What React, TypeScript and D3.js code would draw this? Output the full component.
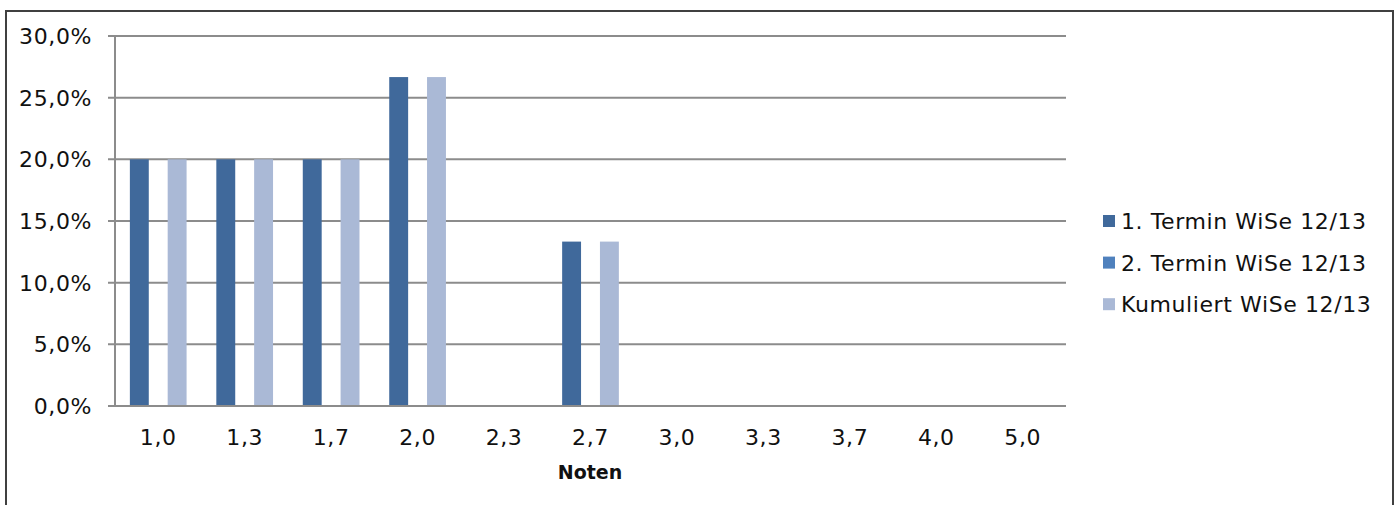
import { useRef, useEffect } from 'react';
import * as d3 from 'd3';

const categories = ['1,0', '1,3', '1,7', '2,0', '2,3', '2,7', '3,0', '3,3', '3,7', '4,0', '5,0'];
const seriesNames = ['1. Termin WiSe 12/13', '2. Termin WiSe 12/13', 'Kumuliert WiSe 12/13'];
const seriesColors = ['#40699b', '#4f81bd', '#aab9d6'];
const termin1 = [20, 20, 20, 26.67, 0, 13.33, 0, 0, 0, 0, 0];
const termin2 = [0, 0, 0, 0, 0, 0, 0, 0, 0, 0, 0];
const kumuliert = [20, 20, 20, 26.67, 0, 13.33, 0, 0, 0, 0, 0];
const yTicks = [0, 5, 10, 15, 20, 25, 30];

const FONT = "'DejaVu Sans', sans-serif";

export default function App() {
  const ref = useRef<SVGSVGElement | null>(null);

  useEffect(() => {
    const svg = d3.select(ref.current);
    svg.selectAll('*').remove();

    const height = 505;
    const plot = { left: 115, right: 1066, top: 36, bottom: 406 };

    // Frame (bottom edge runs off the picture)
    svg
      .append('rect')
      .attr('x', 6)
      .attr('y', 11)
      .attr('width', 1387)
      .attr('height', height + 20)
      .attr('fill', '#fff')
      .attr('stroke', '#404040')
      .attr('stroke-width', 2);

    const x0 = d3.scaleBand<string>().domain(categories).range([plot.left, plot.right]).padding(0);
    const gap = x0.bandwidth() * 0.172;
    const x1 = d3
      .scaleBand<string>()
      .domain(seriesNames)
      .range([gap, x0.bandwidth() - gap])
      .padding(0);

    const y = d3.scaleLinear().domain([0, 30]).range([plot.bottom, plot.top]);

    // Gridlines + y labels
    yTicks.forEach((t) => {
      svg
        .append('line')
        .attr('x1', plot.left - 7)
        .attr('x2', plot.right)
        .attr('y1', y(t))
        .attr('y2', y(t))
        .attr('stroke', '#8c8c8c')
        .attr('stroke-width', 2);
      svg
        .append('text')
        .attr('x', 92)
        .attr('y', y(t))
        .attr('dy', '0.36em')
        .attr('text-anchor', 'end')
        .attr('font-family', FONT)
        .attr('font-size', '22px')
        .attr('letter-spacing', '0.6px')
        .attr('fill', '#111')
        .text(t.toFixed(1).replace('.', ',') + '%');
    });

    // Y axis line
    svg
      .append('line')
      .attr('x1', plot.left)
      .attr('x2', plot.left)
      .attr('y1', plot.top)
      .attr('y2', plot.bottom)
      .attr('stroke', '#8c8c8c')
      .attr('stroke-width', 2);

    // Bars
    const allSeries = [termin1, termin2, kumuliert];
    allSeries.forEach((vals, si) => {
      svg
        .append('g')
        .selectAll('rect')
        .data(vals.map((v, i) => ({ v, c: categories[i] })).filter((d) => d.v > 0))
        .enter()
        .append('rect')
        .attr('x', (d) => x0(d.c)! + x1(seriesNames[si])!)
        .attr('width', x1.bandwidth())
        .attr('y', (d) => y(d.v))
        .attr('height', (d) => y(0) - y(d.v))
        .attr('fill', seriesColors[si]);
    });

    // Baseline on top of bars
    svg
      .append('line')
      .attr('x1', plot.left - 7)
      .attr('x2', plot.right)
      .attr('y1', y(0))
      .attr('y2', y(0))
      .attr('stroke', '#8c8c8c')
      .attr('stroke-width', 2);

    // X labels
    categories.forEach((c) => {
      svg
        .append('text')
        .attr('x', x0(c)! + x0.bandwidth() / 2)
        .attr('y', 445)
        .attr('text-anchor', 'middle')
        .attr('font-family', FONT)
        .attr('font-size', '22px')
        .attr('letter-spacing', '0.6px')
        .attr('fill', '#111')
        .text(c);
    });

    svg
      .append('text')
      .attr('x', 590)
      .attr('y', 479)
      .attr('text-anchor', 'middle')
      .attr('font-family', FONT)
      .attr('font-size', '19px')
      .attr('font-weight', 'bold')
      .attr('fill', '#111')
      .text('Noten');

    // Legend
    seriesNames.forEach((s, i) => {
      const cy = 221 + i * 41.6;
      svg
        .append('rect')
        .attr('x', 1103)
        .attr('y', cy - 6)
        .attr('width', 12)
        .attr('height', 12)
        .attr('fill', seriesColors[i]);
      svg
        .append('text')
        .attr('x', 1121)
        .attr('y', cy)
        .attr('dy', '0.36em')
        .attr('font-family', FONT)
        .attr('font-size', '22px')
        .attr('letter-spacing', '0.6px')
        .attr('fill', '#111')
        .text(s);
    });
  }, []);

  return (
    <svg
      ref={ref}
      width={1398}
      height={505}
      style={{ position: 'absolute', top: 0, left: 0, background: '#fff' }}
    />
  );
}
